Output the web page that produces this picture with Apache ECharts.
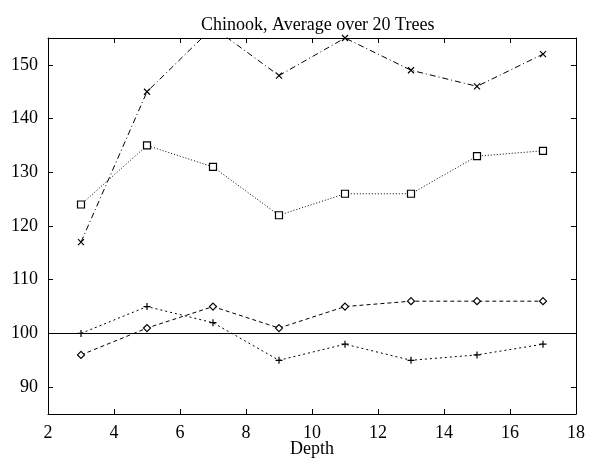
<!DOCTYPE html>
<html><head><meta charset="utf-8">
<script src="https://cdn.jsdelivr.net/npm/echarts@6/dist/echarts.min.js"></script>
<style>html,body{margin:0;padding:0;background:#fff}#c{width:589px;height:461px}</style>
</head><body><div id="c"></div>
<script>
const depths = [3, 5, 7, 9, 11, 13, 15, 17];
const seriesCross = [117, 145, 157, 148, 155, 149, 146, 152];
const seriesSquare = [124, 135, 131, 122, 126, 126, 133, 134];
const seriesDiamond = [96, 101, 105, 101, 105, 106, 106, 106];
const seriesPlus = [100, 105, 102, 95, 98, 95, 96, 98];
const xTicks = [2, 4, 6, 8, 10, 12, 14, 16, 18];
const yTicks = [90, 100, 110, 120, 130, 140, 150];
const baseline = 100;

const FONT = '"Liberation Serif", "DejaVu Serif", serif';
const pair = arr => depths.map((d, i) => [d, arr[i]]);
const crossPath = 'path://M0,0L10,10M10,0L0,10';
const plusPath = 'path://M5,0L5,10M0,5L10,5';

function mkSeries(name, data, symbol, size, dash, markerFill) {
  return {
    name, type: 'line', data: pair(data), clip: true,
    symbol, symbolSize: size, showAllSymbol: true,
    lineStyle: { color: '#000', width: 1, type: dash },
    itemStyle: { color: markerFill, borderColor: '#000', borderWidth: 1.2 },
    emphasis: { disabled: true }, animation: false, z: 3
  };
}

const chart = echarts.init(document.getElementById('c'), null, { renderer: 'canvas' });
const tickStyle = { inside: true, length: 5, lineStyle: { color: '#000' } };
const lineStyle = { lineStyle: { color: '#000', width: 1 } };
chart.setOption({
  animation: false,
  backgroundColor: '#fff',
  title: { text: 'Chinook, Average over 20 Trees', left: 196, top: 11,
    textStyle: { fontFamily: FONT, fontSize: 18, fontWeight: 'normal', color: '#000' } },
  grid: { left: 48, right: 13, top: 38, bottom: 47, containLabel: false, outerBoundsMode: 'none' },
  xAxis: [
    { type: 'value', min: xTicks[0], max: xTicks[xTicks.length - 1], interval: 2,
      name: 'Depth', nameLocation: 'middle', nameGap: 26, nameMoveOverlap: false,
      nameTextStyle: { fontFamily: FONT, fontSize: 18, color: '#000' },
      axisLine: lineStyle, axisTick: tickStyle, splitLine: { show: false },
      axisLabel: { fontFamily: FONT, fontSize: 18, color: '#000', margin: 10 } },
    { type: 'value', position: 'top', min: xTicks[0], max: xTicks[xTicks.length - 1], interval: 2,
      axisLine: lineStyle, axisTick: tickStyle, splitLine: { show: false },
      axisLabel: { show: false } }
  ],
  yAxis: [
    { type: 'value', min: 85, max: 155,
      axisLine: lineStyle, splitLine: { show: false },
      axisTick: Object.assign({ customValues: yTicks }, tickStyle),
      axisLabel: { customValues: yTicks, fontFamily: FONT, fontSize: 18, color: '#000', margin: 10 } },
    { type: 'value', position: 'right', min: 85, max: 155,
      axisLine: lineStyle, splitLine: { show: false },
      axisTick: Object.assign({ customValues: yTicks }, tickStyle),
      axisLabel: { show: false } }
  ],
  series: [
    Object.assign(mkSeries('cross', seriesCross, crossPath, 6, [6, 3, 1, 3], '#000'),
      { itemStyle: { color: 'none', borderColor: '#000', borderWidth: 1.2 } }),
    mkSeries('square', seriesSquare, 'rect', 7, [1, 2], '#fff'),
    mkSeries('diamond', seriesDiamond, 'diamond', 7, [4, 3], '#fff'),
    Object.assign(mkSeries('plus', seriesPlus, plusPath, 7, [2, 3], '#000'),
      { itemStyle: { color: 'none', borderColor: '#000', borderWidth: 1.2 },
        markLine: { silent: true, symbol: 'none', label: { show: false },
          lineStyle: { color: '#000', type: 'solid', width: 1 },
          data: [{ yAxis: baseline }] } })
  ]
});
</script></body></html>
